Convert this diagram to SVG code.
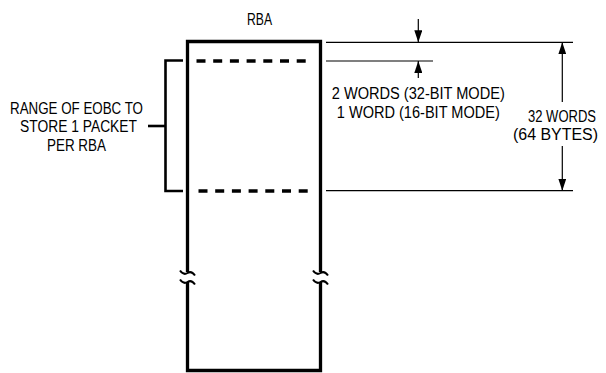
<svg xmlns="http://www.w3.org/2000/svg" width="606" height="373" viewBox="0 0 606 373">
<style>
.t{font-family:"Liberation Sans",Arial,sans-serif;font-size:16px;fill:#000}
.thick{stroke:#000;stroke-width:3.3;fill:none}
.dash{stroke:#000;stroke-width:3.3;fill:none;stroke-dasharray:9 7.7}
.br{stroke:#000;stroke-width:2.6;fill:none}
.dim{stroke:#000;stroke-width:1.2;fill:none}
.sq{stroke:#000;stroke-width:2;fill:none}
</style>
<defs>
<marker id="ah" viewBox="0 0 12 8" refX="12" refY="4" markerWidth="12" markerHeight="8" markerUnits="userSpaceOnUse" orient="auto">
<path d="M0,0 L12,4 L0,8 Z" fill="#000"/>
</marker>
</defs>
<rect width="606" height="373" fill="#fff"/>
<g id="rba">
<text class="t" x="259.5" y="24.5" text-anchor="middle" font-size="15" textLength="25" lengthAdjust="spacingAndGlyphs">RBA</text>
<path class="thick" d="M187.5,272 V41.5 H320.5 V272"/>
<path class="thick" d="M187.5,282 V370.5 H320.5 V282"/>
<line class="dash" x1="196.5" y1="61" x2="312" y2="61"/>
<line class="dash" x1="198.5" y1="191" x2="312" y2="191"/>
<path class="sq" d="M180,270.5 Q183.5,275.5 187.5,273 Q191.5,270.5 195,275.5"/>
<path class="sq" d="M180,279.5 Q183.5,284.5 187.5,282 Q191.5,279.5 195,284.5"/>
<path class="sq" d="M313,270.5 Q316.5,275.5 320.5,273 Q324.5,270.5 328,275.5"/>
<path class="sq" d="M313,279.5 Q316.5,284.5 320.5,282 Q324.5,279.5 328,284.5"/>
</g>
<g id="range">
<path class="br" d="M183,60.5 H165.5 V191 H183"/>
<line class="br" x1="148" y1="126" x2="165.5" y2="126"/>
<text class="t" x="76.5" y="113.5" text-anchor="middle" textLength="133" lengthAdjust="spacingAndGlyphs">RANGE OF EOBC TO</text>
<text class="t" x="78.5" y="132" text-anchor="middle" textLength="117" lengthAdjust="spacingAndGlyphs">STORE 1 PACKET</text>
<text class="t" x="76.5" y="150.5" text-anchor="middle" textLength="59" lengthAdjust="spacingAndGlyphs">PER RBA</text>
</g>
<g id="words">
<text class="t" x="418.3" y="98.5" text-anchor="middle" textLength="173" lengthAdjust="spacingAndGlyphs">2 WORDS (32-BIT MODE)</text>
<text class="t" x="418.3" y="117.5" text-anchor="middle" textLength="163" lengthAdjust="spacingAndGlyphs">1 WORD (16-BIT MODE)</text>
</g>
<g id="size">
<text class="t" x="562" y="121.5" text-anchor="middle" textLength="68" lengthAdjust="spacingAndGlyphs">32 WORDS</text>
<text class="t" x="555.5" y="139.5" text-anchor="middle" textLength="85" lengthAdjust="spacingAndGlyphs">(64 BYTES)</text>
</g>
<g id="connectors">
<line class="dim" x1="326" y1="42.3" x2="573" y2="42.3"/>
<line class="dim" x1="326" y1="61" x2="433" y2="61"/>
<line class="dim" x1="326" y1="190.7" x2="573" y2="190.7"/>
<line class="dim" x1="418.3" y1="19" x2="418.3" y2="42.3" marker-end="url(#ah)"/>
<line class="dim" x1="418.3" y1="78" x2="418.3" y2="61" marker-end="url(#ah)"/>
<line class="dim" x1="562.3" y1="102" x2="562.3" y2="42.3" marker-end="url(#ah)"/>
<line class="dim" x1="562.3" y1="146" x2="562.3" y2="190.7" marker-end="url(#ah)"/>
</g>
</svg>
